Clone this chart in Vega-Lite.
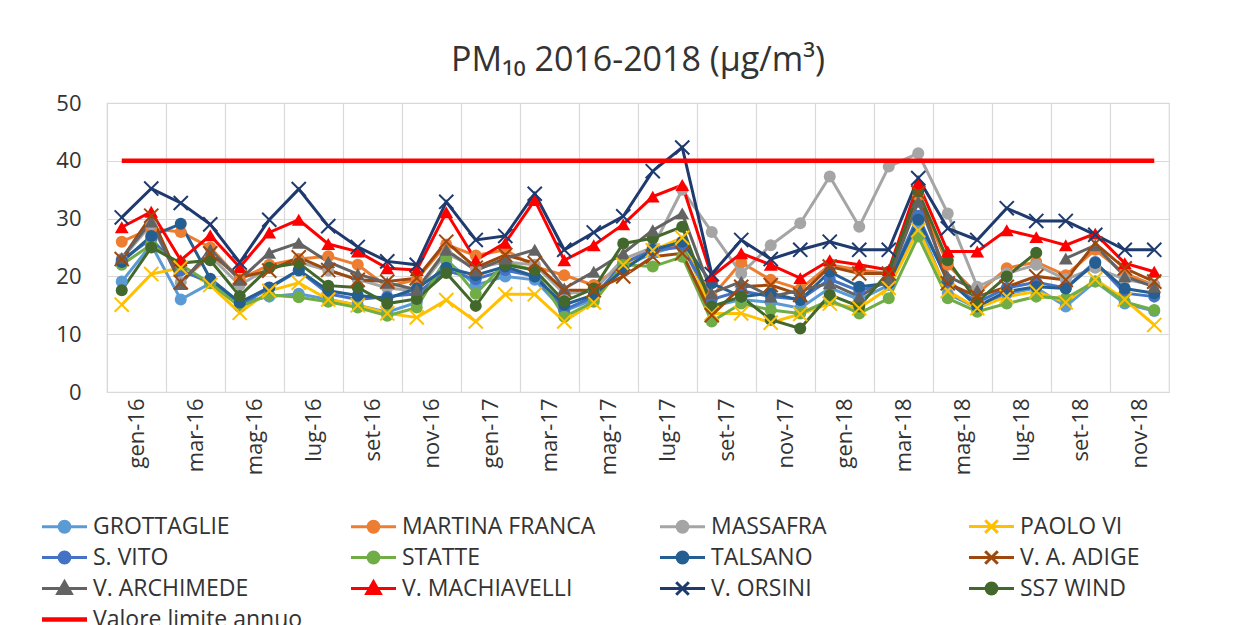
{
"$schema": "https://vega.github.io/schema/vega-lite/v6.json",
"autosize": "none",
"width": 1062,
"height": 289,
"padding": {"left": 107, "top": 103, "right": 69, "bottom": 233},
"background": "white",
"title": {"text": "PM₁₀ 2016-2018 (µg/m³)", "fontSize": 34, "font": "Open Sans", "fontWeight": "normal", "color": "#333333", "offset": 14},
"data": {"values": [
{"m":"gen-16","s":"GROTTAGLIE","v":19.1},{"m":"feb-16","s":"GROTTAGLIE","v":25.5},{"m":"mar-16","s":"GROTTAGLIE","v":16.0},{"m":"apr-16","s":"GROTTAGLIE","v":18.8},{"m":"mag-16","s":"GROTTAGLIE","v":15.5},{"m":"giu-16","s":"GROTTAGLIE","v":16.5},{"m":"lug-16","s":"GROTTAGLIE","v":17.0},{"m":"ago-16","s":"GROTTAGLIE","v":16.0},{"m":"set-16","s":"GROTTAGLIE","v":15.0},{"m":"ott-16","s":"GROTTAGLIE","v":13.8},{"m":"nov-16","s":"GROTTAGLIE","v":15.5},{"m":"dic-16","s":"GROTTAGLIE","v":22.8},
{"m":"gen-17","s":"GROTTAGLIE","v":18.5},{"m":"feb-17","s":"GROTTAGLIE","v":20.0},{"m":"mar-17","s":"GROTTAGLIE","v":19.4},{"m":"apr-17","s":"GROTTAGLIE","v":14.0},{"m":"mag-17","s":"GROTTAGLIE","v":16.0},{"m":"giu-17","s":"GROTTAGLIE","v":21.7},{"m":"lug-17","s":"GROTTAGLIE","v":24.0},{"m":"ago-17","s":"GROTTAGLIE","v":25.5},{"m":"set-17","s":"GROTTAGLIE","v":14.8},{"m":"ott-17","s":"GROTTAGLIE","v":16.0},{"m":"nov-17","s":"GROTTAGLIE","v":15.5},{"m":"dic-17","s":"GROTTAGLIE","v":14.5},
{"m":"gen-18","s":"GROTTAGLIE","v":18.0},{"m":"feb-18","s":"GROTTAGLIE","v":16.0},{"m":"mar-18","s":"GROTTAGLIE","v":18.5},{"m":"apr-18","s":"GROTTAGLIE","v":29.2},{"m":"mag-18","s":"GROTTAGLIE","v":17.0},{"m":"giu-18","s":"GROTTAGLIE","v":14.5},{"m":"lug-18","s":"GROTTAGLIE","v":17.0},{"m":"ago-18","s":"GROTTAGLIE","v":18.0},{"m":"set-18","s":"GROTTAGLIE","v":14.8},{"m":"ott-18","s":"GROTTAGLIE","v":19.1},{"m":"nov-18","s":"GROTTAGLIE","v":15.3},{"m":"dic-18","s":"GROTTAGLIE","v":14.0},

{"m":"gen-16","s":"MARTINA FRANCA","v":26.0},{"m":"feb-16","s":"MARTINA FRANCA","v":28.3},{"m":"mar-16","s":"MARTINA FRANCA","v":27.7},{"m":"apr-16","s":"MARTINA FRANCA","v":25.0},{"m":"mag-16","s":"MARTINA FRANCA","v":19.5},{"m":"giu-16","s":"MARTINA FRANCA","v":22.0},{"m":"lug-16","s":"MARTINA FRANCA","v":23.0},{"m":"ago-16","s":"MARTINA FRANCA","v":23.5},{"m":"set-16","s":"MARTINA FRANCA","v":22.0},{"m":"ott-16","s":"MARTINA FRANCA","v":18.2},{"m":"nov-16","s":"MARTINA FRANCA","v":19.5},{"m":"dic-16","s":"MARTINA FRANCA","v":25.5},
{"m":"gen-17","s":"MARTINA FRANCA","v":23.6},{"m":"feb-17","s":"MARTINA FRANCA","v":24.6},{"m":"mar-17","s":"MARTINA FRANCA","v":21.7},{"m":"apr-17","s":"MARTINA FRANCA","v":20.2},{"m":"mag-17","s":"MARTINA FRANCA","v":18.5},{"m":"giu-17","s":"MARTINA FRANCA","v":22.0},{"m":"lug-17","s":"MARTINA FRANCA","v":25.0},{"m":"ago-17","s":"MARTINA FRANCA","v":25.5},{"m":"set-17","s":"MARTINA FRANCA","v":16.5},{"m":"ott-17","s":"MARTINA FRANCA","v":22.4},{"m":"nov-17","s":"MARTINA FRANCA","v":19.4},{"m":"dic-17","s":"MARTINA FRANCA","v":17.8},
{"m":"gen-18","s":"MARTINA FRANCA","v":22.0},{"m":"feb-18","s":"MARTINA FRANCA","v":21.1},{"m":"mar-18","s":"MARTINA FRANCA","v":20.5},{"m":"apr-18","s":"MARTINA FRANCA","v":34.0},{"m":"mag-18","s":"MARTINA FRANCA","v":22.0},{"m":"giu-18","s":"MARTINA FRANCA","v":17.0},{"m":"lug-18","s":"MARTINA FRANCA","v":21.4},{"m":"ago-18","s":"MARTINA FRANCA","v":22.5},{"m":"set-18","s":"MARTINA FRANCA","v":20.2},{"m":"ott-18","s":"MARTINA FRANCA","v":24.6},{"m":"nov-18","s":"MARTINA FRANCA","v":20.5},{"m":"dic-18","s":"MARTINA FRANCA","v":18.5},

{"m":"gen-16","s":"MASSAFRA","v":23.0},{"m":"feb-16","s":"MASSAFRA","v":29.0},{"m":"mar-16","s":"MASSAFRA","v":19.0},{"m":"apr-16","s":"MASSAFRA","v":23.5},{"m":"mag-16","s":"MASSAFRA","v":18.5},{"m":"giu-16","s":"MASSAFRA","v":21.5},{"m":"lug-16","s":"MASSAFRA","v":22.5},{"m":"ago-16","s":"MASSAFRA","v":21.0},{"m":"set-16","s":"MASSAFRA","v":19.5},{"m":"ott-16","s":"MASSAFRA","v":18.0},{"m":"nov-16","s":"MASSAFRA","v":17.5},{"m":"dic-16","s":"MASSAFRA","v":24.0},
{"m":"gen-17","s":"MASSAFRA","v":21.5},{"m":"feb-17","s":"MASSAFRA","v":22.5},{"m":"mar-17","s":"MASSAFRA","v":22.0},{"m":"apr-17","s":"MASSAFRA","v":17.0},{"m":"mag-17","s":"MASSAFRA","v":17.5},{"m":"giu-17","s":"MASSAFRA","v":23.0},{"m":"lug-17","s":"MASSAFRA","v":25.0},{"m":"ago-17","s":"MASSAFRA","v":35.0},{"m":"set-17","s":"MASSAFRA","v":27.7},{"m":"ott-17","s":"MASSAFRA","v":20.5},{"m":"nov-17","s":"MASSAFRA","v":25.4},{"m":"dic-17","s":"MASSAFRA","v":29.2},
{"m":"gen-18","s":"MASSAFRA","v":37.3},{"m":"feb-18","s":"MASSAFRA","v":28.6},{"m":"mar-18","s":"MASSAFRA","v":39.0},{"m":"apr-18","s":"MASSAFRA","v":41.3},{"m":"mag-18","s":"MASSAFRA","v":30.9},{"m":"giu-18","s":"MASSAFRA","v":18.2},{"m":"lug-18","s":"MASSAFRA","v":20.5},{"m":"ago-18","s":"MASSAFRA","v":22.0},{"m":"set-18","s":"MASSAFRA","v":19.5},{"m":"ott-18","s":"MASSAFRA","v":21.5},{"m":"nov-18","s":"MASSAFRA","v":19.5},{"m":"dic-18","s":"MASSAFRA","v":18.5},

{"m":"gen-16","s":"PAOLO VI","v":15.1},{"m":"feb-16","s":"PAOLO VI","v":20.4},{"m":"mar-16","s":"PAOLO VI","v":21.5},{"m":"apr-16","s":"PAOLO VI","v":18.5},{"m":"mag-16","s":"PAOLO VI","v":13.7},{"m":"giu-16","s":"PAOLO VI","v":17.5},{"m":"lug-16","s":"PAOLO VI","v":18.9},{"m":"ago-16","s":"PAOLO VI","v":16.0},{"m":"set-16","s":"PAOLO VI","v":15.0},{"m":"ott-16","s":"PAOLO VI","v":13.6},{"m":"nov-16","s":"PAOLO VI","v":12.9},{"m":"dic-16","s":"PAOLO VI","v":15.9},
{"m":"gen-17","s":"PAOLO VI","v":12.2},{"m":"feb-17","s":"PAOLO VI","v":16.9},{"m":"mar-17","s":"PAOLO VI","v":16.9},{"m":"apr-17","s":"PAOLO VI","v":12.2},{"m":"mag-17","s":"PAOLO VI","v":15.5},{"m":"giu-17","s":"PAOLO VI","v":22.0},{"m":"lug-17","s":"PAOLO VI","v":24.5},{"m":"ago-17","s":"PAOLO VI","v":26.7},{"m":"set-17","s":"PAOLO VI","v":13.6},{"m":"ott-17","s":"PAOLO VI","v":13.6},{"m":"nov-17","s":"PAOLO VI","v":12.0},{"m":"dic-17","s":"PAOLO VI","v":13.5},
{"m":"gen-18","s":"PAOLO VI","v":15.3},{"m":"feb-18","s":"PAOLO VI","v":14.5},{"m":"mar-18","s":"PAOLO VI","v":18.0},{"m":"apr-18","s":"PAOLO VI","v":28.0},{"m":"mag-18","s":"PAOLO VI","v":17.5},{"m":"giu-18","s":"PAOLO VI","v":14.5},{"m":"lug-18","s":"PAOLO VI","v":16.5},{"m":"ago-18","s":"PAOLO VI","v":17.4},{"m":"set-18","s":"PAOLO VI","v":15.5},{"m":"ott-18","s":"PAOLO VI","v":19.5},{"m":"nov-18","s":"PAOLO VI","v":16.0},{"m":"dic-18","s":"PAOLO VI","v":11.6},

{"m":"gen-16","s":"S. VITO","v":22.8},{"m":"feb-16","s":"S. VITO","v":26.5},{"m":"mar-16","s":"S. VITO","v":21.0},{"m":"apr-16","s":"S. VITO","v":19.0},{"m":"mag-16","s":"S. VITO","v":15.0},{"m":"giu-16","s":"S. VITO","v":18.0},{"m":"lug-16","s":"S. VITO","v":21.0},{"m":"ago-16","s":"S. VITO","v":17.0},{"m":"set-16","s":"S. VITO","v":16.0},{"m":"ott-16","s":"S. VITO","v":16.5},{"m":"nov-16","s":"S. VITO","v":17.0},{"m":"dic-16","s":"S. VITO","v":21.0},
{"m":"gen-17","s":"S. VITO","v":19.5},{"m":"feb-17","s":"S. VITO","v":21.1},{"m":"mar-17","s":"S. VITO","v":20.0},{"m":"apr-17","s":"S. VITO","v":14.2},{"m":"mag-17","s":"S. VITO","v":16.5},{"m":"giu-17","s":"S. VITO","v":22.3},{"m":"lug-17","s":"S. VITO","v":24.5},{"m":"ago-17","s":"S. VITO","v":25.1},{"m":"set-17","s":"S. VITO","v":16.0},{"m":"ott-17","s":"S. VITO","v":17.5},{"m":"nov-17","s":"S. VITO","v":16.5},{"m":"dic-17","s":"S. VITO","v":16.0},
{"m":"gen-18","s":"S. VITO","v":19.5},{"m":"feb-18","s":"S. VITO","v":17.5},{"m":"mar-18","s":"S. VITO","v":19.0},{"m":"apr-18","s":"S. VITO","v":30.5},{"m":"mag-18","s":"S. VITO","v":19.0},{"m":"giu-18","s":"S. VITO","v":15.5},{"m":"lug-18","s":"S. VITO","v":18.0},{"m":"ago-18","s":"S. VITO","v":19.0},{"m":"set-18","s":"S. VITO","v":18.0},{"m":"ott-18","s":"S. VITO","v":22.5},{"m":"nov-18","s":"S. VITO","v":17.1},{"m":"dic-18","s":"S. VITO","v":16.5},

{"m":"gen-16","s":"STATTE","v":22.0},{"m":"feb-16","s":"STATTE","v":25.5},{"m":"mar-16","s":"STATTE","v":22.0},{"m":"apr-16","s":"STATTE","v":18.8},{"m":"mag-16","s":"STATTE","v":14.8},{"m":"giu-16","s":"STATTE","v":16.8},{"m":"lug-16","s":"STATTE","v":16.4},{"m":"ago-16","s":"STATTE","v":15.6},{"m":"set-16","s":"STATTE","v":14.6},{"m":"ott-16","s":"STATTE","v":13.2},{"m":"nov-16","s":"STATTE","v":14.6},{"m":"dic-16","s":"STATTE","v":23.1},
{"m":"gen-17","s":"STATTE","v":17.0},{"m":"feb-17","s":"STATTE","v":22.3},{"m":"mar-17","s":"STATTE","v":21.1},{"m":"apr-17","s":"STATTE","v":13.0},{"m":"mag-17","s":"STATTE","v":15.6},{"m":"giu-17","s":"STATTE","v":22.0},{"m":"lug-17","s":"STATTE","v":21.7},{"m":"ago-17","s":"STATTE","v":23.4},{"m":"set-17","s":"STATTE","v":12.2},{"m":"ott-17","s":"STATTE","v":15.3},{"m":"nov-17","s":"STATTE","v":14.2},{"m":"dic-17","s":"STATTE","v":13.6},
{"m":"gen-18","s":"STATTE","v":15.9},{"m":"feb-18","s":"STATTE","v":13.6},{"m":"mar-18","s":"STATTE","v":16.2},{"m":"apr-18","s":"STATTE","v":26.9},{"m":"mag-18","s":"STATTE","v":16.2},{"m":"giu-18","s":"STATTE","v":13.9},{"m":"lug-18","s":"STATTE","v":15.3},{"m":"ago-18","s":"STATTE","v":16.5},{"m":"set-18","s":"STATTE","v":16.2},{"m":"ott-18","s":"STATTE","v":19.1},{"m":"nov-18","s":"STATTE","v":15.6},{"m":"dic-18","s":"STATTE","v":14.2},

{"m":"gen-16","s":"TALSANO","v":22.5},{"m":"feb-16","s":"TALSANO","v":27.0},{"m":"mar-16","s":"TALSANO","v":29.1},{"m":"apr-16","s":"TALSANO","v":19.6},{"m":"mag-16","s":"TALSANO","v":15.5},{"m":"giu-16","s":"TALSANO","v":18.1},{"m":"lug-16","s":"TALSANO","v":21.1},{"m":"ago-16","s":"TALSANO","v":17.5},{"m":"set-16","s":"TALSANO","v":16.7},{"m":"ott-16","s":"TALSANO","v":16.2},{"m":"nov-16","s":"TALSANO","v":17.9},{"m":"dic-16","s":"TALSANO","v":21.5},
{"m":"gen-17","s":"TALSANO","v":20.2},{"m":"feb-17","s":"TALSANO","v":21.7},{"m":"mar-17","s":"TALSANO","v":20.0},{"m":"apr-17","s":"TALSANO","v":15.1},{"m":"mag-17","s":"TALSANO","v":16.8},{"m":"giu-17","s":"TALSANO","v":21.1},{"m":"lug-17","s":"TALSANO","v":24.6},{"m":"ago-17","s":"TALSANO","v":26.0},{"m":"set-17","s":"TALSANO","v":18.8},{"m":"ott-17","s":"TALSANO","v":16.5},{"m":"nov-17","s":"TALSANO","v":17.1},{"m":"dic-17","s":"TALSANO","v":15.9},
{"m":"gen-18","s":"TALSANO","v":20.8},{"m":"feb-18","s":"TALSANO","v":18.2},{"m":"mar-18","s":"TALSANO","v":18.8},{"m":"apr-18","s":"TALSANO","v":29.8},{"m":"mag-18","s":"TALSANO","v":19.4},{"m":"giu-18","s":"TALSANO","v":14.8},{"m":"lug-18","s":"TALSANO","v":17.4},{"m":"ago-18","s":"TALSANO","v":18.2},{"m":"set-18","s":"TALSANO","v":17.9},{"m":"ott-18","s":"TALSANO","v":22.3},{"m":"nov-18","s":"TALSANO","v":17.9},{"m":"dic-18","s":"TALSANO","v":17.1},

{"m":"gen-16","s":"V. A. ADIGE","v":23.0},{"m":"feb-16","s":"V. A. ADIGE","v":30.5},{"m":"mar-16","s":"V. A. ADIGE","v":19.0},{"m":"apr-16","s":"V. A. ADIGE","v":24.0},{"m":"mag-16","s":"V. A. ADIGE","v":19.8},{"m":"giu-16","s":"V. A. ADIGE","v":21.0},{"m":"lug-16","s":"V. A. ADIGE","v":23.3},{"m":"ago-16","s":"V. A. ADIGE","v":21.1},{"m":"set-16","s":"V. A. ADIGE","v":19.4},{"m":"ott-16","s":"V. A. ADIGE","v":19.1},{"m":"nov-16","s":"V. A. ADIGE","v":19.7},{"m":"dic-16","s":"V. A. ADIGE","v":26.0},
{"m":"gen-17","s":"V. A. ADIGE","v":21.5},{"m":"feb-17","s":"V. A. ADIGE","v":23.7},{"m":"mar-17","s":"V. A. ADIGE","v":22.3},{"m":"apr-17","s":"V. A. ADIGE","v":17.6},{"m":"mag-17","s":"V. A. ADIGE","v":17.6},{"m":"giu-17","s":"V. A. ADIGE","v":20.0},{"m":"lug-17","s":"V. A. ADIGE","v":23.4},{"m":"ago-17","s":"V. A. ADIGE","v":24.0},{"m":"set-17","s":"V. A. ADIGE","v":13.3},{"m":"ott-17","s":"V. A. ADIGE","v":18.2},{"m":"nov-17","s":"V. A. ADIGE","v":18.5},{"m":"dic-17","s":"V. A. ADIGE","v":16.8},
{"m":"gen-18","s":"V. A. ADIGE","v":21.7},{"m":"feb-18","s":"V. A. ADIGE","v":20.5},{"m":"mar-18","s":"V. A. ADIGE","v":20.5},{"m":"apr-18","s":"V. A. ADIGE","v":34.5},{"m":"mag-18","s":"V. A. ADIGE","v":18.8},{"m":"giu-18","s":"V. A. ADIGE","v":16.5},{"m":"lug-18","s":"V. A. ADIGE","v":18.2},{"m":"ago-18","s":"V. A. ADIGE","v":20.0},{"m":"set-18","s":"V. A. ADIGE","v":19.4},{"m":"ott-18","s":"V. A. ADIGE","v":25.7},{"m":"nov-18","s":"V. A. ADIGE","v":21.4},{"m":"dic-18","s":"V. A. ADIGE","v":19.1},

{"m":"gen-16","s":"V. ARCHIMEDE","v":23.2},{"m":"feb-16","s":"V. ARCHIMEDE","v":29.5},{"m":"mar-16","s":"V. ARCHIMEDE","v":18.7},{"m":"apr-16","s":"V. ARCHIMEDE","v":24.6},{"m":"mag-16","s":"V. ARCHIMEDE","v":19.4},{"m":"giu-16","s":"V. ARCHIMEDE","v":24.1},{"m":"lug-16","s":"V. ARCHIMEDE","v":25.8},{"m":"ago-16","s":"V. ARCHIMEDE","v":22.5},{"m":"set-16","s":"V. ARCHIMEDE","v":20.4},{"m":"ott-16","s":"V. ARCHIMEDE","v":18.9},{"m":"nov-16","s":"V. ARCHIMEDE","v":17.7},{"m":"dic-16","s":"V. ARCHIMEDE","v":24.6},
{"m":"gen-17","s":"V. ARCHIMEDE","v":21.0},{"m":"feb-17","s":"V. ARCHIMEDE","v":23.1},{"m":"mar-17","s":"V. ARCHIMEDE","v":24.6},{"m":"apr-17","s":"V. ARCHIMEDE","v":17.9},{"m":"mag-17","s":"V. ARCHIMEDE","v":20.8},{"m":"giu-17","s":"V. ARCHIMEDE","v":24.0},{"m":"lug-17","s":"V. ARCHIMEDE","v":28.0},{"m":"ago-17","s":"V. ARCHIMEDE","v":30.9},{"m":"set-17","s":"V. ARCHIMEDE","v":17.1},{"m":"ott-17","s":"V. ARCHIMEDE","v":19.1},{"m":"nov-17","s":"V. ARCHIMEDE","v":16.5},{"m":"dic-17","s":"V. ARCHIMEDE","v":17.6},
{"m":"gen-18","s":"V. ARCHIMEDE","v":18.8},{"m":"feb-18","s":"V. ARCHIMEDE","v":16.5},{"m":"mar-18","s":"V. ARCHIMEDE","v":19.5},{"m":"apr-18","s":"V. ARCHIMEDE","v":32.9},{"m":"mag-18","s":"V. ARCHIMEDE","v":20.0},{"m":"giu-18","s":"V. ARCHIMEDE","v":17.6},{"m":"lug-18","s":"V. ARCHIMEDE","v":null},{"m":"ago-18","s":"V. ARCHIMEDE","v":null},{"m":"set-18","s":"V. ARCHIMEDE","v":23.1},{"m":"ott-18","s":"V. ARCHIMEDE","v":25.4},{"m":"nov-18","s":"V. ARCHIMEDE","v":20.0},{"m":"dic-18","s":"V. ARCHIMEDE","v":18.2},

{"m":"gen-16","s":"V. MACHIAVELLI","v":28.5},{"m":"feb-16","s":"V. MACHIAVELLI","v":31.2},{"m":"mar-16","s":"V. MACHIAVELLI","v":22.8},{"m":"apr-16","s":"V. MACHIAVELLI","v":27.1},{"m":"mag-16","s":"V. MACHIAVELLI","v":21.6},{"m":"giu-16","s":"V. MACHIAVELLI","v":27.6},{"m":"lug-16","s":"V. MACHIAVELLI","v":29.8},{"m":"ago-16","s":"V. MACHIAVELLI","v":25.6},{"m":"set-16","s":"V. MACHIAVELLI","v":24.3},{"m":"ott-16","s":"V. MACHIAVELLI","v":21.4},{"m":"nov-16","s":"V. MACHIAVELLI","v":21.1},{"m":"dic-16","s":"V. MACHIAVELLI","v":31.1},
{"m":"gen-17","s":"V. MACHIAVELLI","v":22.8},{"m":"feb-17","s":"V. MACHIAVELLI","v":25.8},{"m":"mar-17","s":"V. MACHIAVELLI","v":33.2},{"m":"apr-17","s":"V. MACHIAVELLI","v":22.8},{"m":"mag-17","s":"V. MACHIAVELLI","v":25.4},{"m":"giu-17","s":"V. MACHIAVELLI","v":29.0},{"m":"lug-17","s":"V. MACHIAVELLI","v":33.8},{"m":"ago-17","s":"V. MACHIAVELLI","v":35.8},{"m":"set-17","s":"V. MACHIAVELLI","v":20.0},{"m":"ott-17","s":"V. MACHIAVELLI","v":24.0},{"m":"nov-17","s":"V. MACHIAVELLI","v":22.0},{"m":"dic-17","s":"V. MACHIAVELLI","v":19.7},
{"m":"gen-18","s":"V. MACHIAVELLI","v":22.8},{"m":"feb-18","s":"V. MACHIAVELLI","v":22.0},{"m":"mar-18","s":"V. MACHIAVELLI","v":21.1},{"m":"apr-18","s":"V. MACHIAVELLI","v":36.1},{"m":"mag-18","s":"V. MACHIAVELLI","v":24.3},{"m":"giu-18","s":"V. MACHIAVELLI","v":24.3},{"m":"lug-18","s":"V. MACHIAVELLI","v":28.0},{"m":"ago-18","s":"V. MACHIAVELLI","v":26.8},{"m":"set-18","s":"V. MACHIAVELLI","v":25.4},{"m":"ott-18","s":"V. MACHIAVELLI","v":27.4},{"m":"nov-18","s":"V. MACHIAVELLI","v":22.3},{"m":"dic-18","s":"V. MACHIAVELLI","v":20.8},

{"m":"gen-16","s":"V. ORSINI","v":30.2},{"m":"feb-16","s":"V. ORSINI","v":35.2},{"m":"mar-16","s":"V. ORSINI","v":32.7},{"m":"apr-16","s":"V. ORSINI","v":29.0},{"m":"mag-16","s":"V. ORSINI","v":22.4},{"m":"giu-16","s":"V. ORSINI","v":29.8},{"m":"lug-16","s":"V. ORSINI","v":35.1},{"m":"ago-16","s":"V. ORSINI","v":28.7},{"m":"set-16","s":"V. ORSINI","v":25.1},{"m":"ott-16","s":"V. ORSINI","v":22.6},{"m":"nov-16","s":"V. ORSINI","v":22.0},{"m":"dic-16","s":"V. ORSINI","v":32.9},
{"m":"gen-17","s":"V. ORSINI","v":26.3},{"m":"feb-17","s":"V. ORSINI","v":27.0},{"m":"mar-17","s":"V. ORSINI","v":34.3},{"m":"apr-17","s":"V. ORSINI","v":24.6},{"m":"mag-17","s":"V. ORSINI","v":27.6},{"m":"giu-17","s":"V. ORSINI","v":30.4},{"m":"lug-17","s":"V. ORSINI","v":38.2},{"m":"ago-17","s":"V. ORSINI","v":42.3},{"m":"set-17","s":"V. ORSINI","v":20.4},{"m":"ott-17","s":"V. ORSINI","v":26.3},{"m":"nov-17","s":"V. ORSINI","v":23.0},{"m":"dic-17","s":"V. ORSINI","v":24.6},
{"m":"gen-18","s":"V. ORSINI","v":26.0},{"m":"feb-18","s":"V. ORSINI","v":24.6},{"m":"mar-18","s":"V. ORSINI","v":24.6},{"m":"apr-18","s":"V. ORSINI","v":37.0},{"m":"mag-18","s":"V. ORSINI","v":28.3},{"m":"giu-18","s":"V. ORSINI","v":26.3},{"m":"lug-18","s":"V. ORSINI","v":31.8},{"m":"ago-18","s":"V. ORSINI","v":29.6},{"m":"set-18","s":"V. ORSINI","v":29.6},{"m":"ott-18","s":"V. ORSINI","v":27.2},{"m":"nov-18","s":"V. ORSINI","v":24.6},{"m":"dic-18","s":"V. ORSINI","v":24.6},

{"m":"gen-16","s":"SS7 WIND","v":17.6},{"m":"feb-16","s":"SS7 WIND","v":25.0},{"m":"mar-16","s":"SS7 WIND","v":22.3},{"m":"apr-16","s":"SS7 WIND","v":22.8},{"m":"mag-16","s":"SS7 WIND","v":16.6},{"m":"giu-16","s":"SS7 WIND","v":21.5},{"m":"lug-16","s":"SS7 WIND","v":22.3},{"m":"ago-16","s":"SS7 WIND","v":18.4},{"m":"set-16","s":"SS7 WIND","v":18.1},{"m":"ott-16","s":"SS7 WIND","v":15.3},{"m":"nov-16","s":"SS7 WIND","v":16.1},{"m":"dic-16","s":"SS7 WIND","v":20.6},
{"m":"gen-17","s":"SS7 WIND","v":14.9},{"m":"feb-17","s":"SS7 WIND","v":22.0},{"m":"mar-17","s":"SS7 WIND","v":21.1},{"m":"apr-17","s":"SS7 WIND","v":15.7},{"m":"mag-17","s":"SS7 WIND","v":17.9},{"m":"giu-17","s":"SS7 WIND","v":25.7},{"m":"lug-17","s":"SS7 WIND","v":26.6},{"m":"ago-17","s":"SS7 WIND","v":28.6},{"m":"set-17","s":"SS7 WIND","v":14.8},{"m":"ott-17","s":"SS7 WIND","v":16.5},{"m":"nov-17","s":"SS7 WIND","v":12.5},{"m":"dic-17","s":"SS7 WIND","v":11.0},
{"m":"gen-18","s":"SS7 WIND","v":16.8},{"m":"feb-18","s":"SS7 WIND","v":14.8},{"m":"mar-18","s":"SS7 WIND","v":20.8},{"m":"apr-18","s":"SS7 WIND","v":34.7},{"m":"mag-18","s":"SS7 WIND","v":22.8},{"m":"giu-18","s":"SS7 WIND","v":15.6},{"m":"lug-18","s":"SS7 WIND","v":20.0},{"m":"ago-18","s":"SS7 WIND","v":24.1},

{"m":"gen-16","s":"Valore limite annuo","v":40},{"m":"feb-16","s":"Valore limite annuo","v":40},{"m":"mar-16","s":"Valore limite annuo","v":40},{"m":"apr-16","s":"Valore limite annuo","v":40},{"m":"mag-16","s":"Valore limite annuo","v":40},{"m":"giu-16","s":"Valore limite annuo","v":40},{"m":"lug-16","s":"Valore limite annuo","v":40},{"m":"ago-16","s":"Valore limite annuo","v":40},{"m":"set-16","s":"Valore limite annuo","v":40},{"m":"ott-16","s":"Valore limite annuo","v":40},{"m":"nov-16","s":"Valore limite annuo","v":40},{"m":"dic-16","s":"Valore limite annuo","v":40},
{"m":"gen-17","s":"Valore limite annuo","v":40},{"m":"feb-17","s":"Valore limite annuo","v":40},{"m":"mar-17","s":"Valore limite annuo","v":40},{"m":"apr-17","s":"Valore limite annuo","v":40},{"m":"mag-17","s":"Valore limite annuo","v":40},{"m":"giu-17","s":"Valore limite annuo","v":40},{"m":"lug-17","s":"Valore limite annuo","v":40},{"m":"ago-17","s":"Valore limite annuo","v":40},{"m":"set-17","s":"Valore limite annuo","v":40},{"m":"ott-17","s":"Valore limite annuo","v":40},{"m":"nov-17","s":"Valore limite annuo","v":40},{"m":"dic-17","s":"Valore limite annuo","v":40},
{"m":"gen-18","s":"Valore limite annuo","v":40},{"m":"feb-18","s":"Valore limite annuo","v":40},{"m":"mar-18","s":"Valore limite annuo","v":40},{"m":"apr-18","s":"Valore limite annuo","v":40},{"m":"mag-18","s":"Valore limite annuo","v":40},{"m":"giu-18","s":"Valore limite annuo","v":40},{"m":"lug-18","s":"Valore limite annuo","v":40},{"m":"ago-18","s":"Valore limite annuo","v":40},{"m":"set-18","s":"Valore limite annuo","v":40},{"m":"ott-18","s":"Valore limite annuo","v":40},{"m":"nov-18","s":"Valore limite annuo","v":40},{"m":"dic-18","s":"Valore limite annuo","v":40}
]},
"encoding": {
  "x": {"field": "m", "type": "nominal", "title": null,
    "sort": ["gen-16","feb-16","mar-16","apr-16","mag-16","giu-16","lug-16","ago-16","set-16","ott-16","nov-16","dic-16","gen-17","feb-17","mar-17","apr-17","mag-17","giu-17","lug-17","ago-17","set-17","ott-17","nov-17","dic-17","gen-18","feb-18","mar-18","apr-18","mag-18","giu-18","lug-18","ago-18","set-18","ott-18","nov-18","dic-18"],
    "scale": {"type": "band", "paddingInner": 0, "paddingOuter": 0},
    "axis": {"values": ["gen-16","mar-16","mag-16","lug-16","set-16","nov-16","gen-17","mar-17","mag-17","lug-17","set-17","nov-17","gen-18","mar-18","mag-18","lug-18","set-18","nov-18"],
      "bandPosition": 0, "labelOffset": 14.75, "labelAngle": -90, "labelAlign": "right", "labelBaseline": "middle", "labelPadding": 6, "labelFontSize": 22, "labelFont": "Open Sans", "labelColor": "#333333",
      "grid": true, "gridColor": "#D9D9D9", "gridWidth": 1.2, "ticks": false, "tickSize": 0, "domain": false}},
  "y": {"field": "v", "type": "quantitative", "title": null,
    "scale": {"domain": [0, 50], "nice": false, "zero": true},
    "axis": {"values": [0, 10, 20, 30, 40, 50], "labelFontSize": 22, "labelFont": "Open Sans", "labelColor": "#333333", "labelPadding": 26,
      "grid": true, "gridColor": "#D9D9D9", "gridWidth": 1.2, "ticks": false, "tickSize": 0, "domain": false}},
  "color": {"field": "s", "type": "nominal",
    "scale": {"domain": ["GROTTAGLIE","MARTINA FRANCA","MASSAFRA","PAOLO VI","S. VITO","STATTE","TALSANO","V. A. ADIGE","V. ARCHIMEDE","V. MACHIAVELLI","V. ORSINI","SS7 WIND","Valore limite annuo"],
      "range": ["#5B9BD5","#ED7D31","#A5A5A5","#FFC000","#4472C4","#70AD47","#255E91","#9E480E","#636363","#FF0000","#1F3A6E","#43682B","#FF0000"]},
    "legend": null}
},
"layer": [
  {"transform": [{"filter": "datum.s !== 'Valore limite annuo'"}],
   "mark": {"type": "line", "strokeWidth": 3, "invalid": "break-paths-show-domains"},
   "encoding": {"color": {"field": "s", "type": "nominal",
     "legend": {"orient": "none", "direction": "horizontal", "legendX": -54, "legendY": 412, "columns": 4, "gridAlign": "all", "columnPadding": 42, "rowPadding": 5, "title": null, "padding": 0,
       "symbolSize": 2025, "symbolStrokeWidth": 3, "labelFont": "Open Sans", "labelFontSize": 23, "labelColor": "#333333", "labelOffset": 17, "labelLimit": 400,
       "encode": {"symbols": {"update": {
         "shape": {"signal": "indexof(['PAOLO VI','V. A. ADIGE','V. ORSINI'], datum.value) >= 0 ? 'M-1,0L1,0M-0.28,-0.28L0.28,0.28M-0.28,0.28L0.28,-0.28' : indexof(['V. ARCHIMEDE','V. MACHIAVELLI'], datum.value) >= 0 ? 'M-1,0L1,0M0,-0.3L0.3,0.22L-0.3,0.22Z' : datum.value === 'Valore limite annuo' ? 'M-1,0L1,0' : 'M-1,0L1,0M-0.24,0A0.24,0.24,0,1,0,0.24,0A0.24,0.24,0,1,0,-0.24,0Z'"},
         "fill": {"signal": "scale('color', datum.value)"},
         "stroke": {"signal": "scale('color', datum.value)"},
         "strokeWidth": {"signal": "datum.value === 'Valore limite annuo' ? 4.5 : 3"},
         "opacity": {"value": 1}}}}}}}},
  {"transform": [{"filter": {"field": "s", "oneOf": ["GROTTAGLIE","MARTINA FRANCA","MASSAFRA","S. VITO","STATTE","TALSANO","SS7 WIND"]}}],
   "mark": {"type": "point", "shape": "circle", "filled": true, "size": 144, "opacity": 1}},
  {"transform": [{"filter": {"field": "s", "oneOf": ["V. ARCHIMEDE","V. MACHIAVELLI"]}}],
   "mark": {"type": "point", "shape": "triangle-up", "filled": true, "size": 190, "opacity": 1}},
  {"transform": [{"filter": {"field": "s", "oneOf": ["PAOLO VI","V. A. ADIGE","V. ORSINI"]}}],
   "mark": {"type": "point", "shape": "M-1,-1L1,1M-1,1L1,-1", "filled": false, "size": 200, "strokeWidth": 2, "opacity": 1}},
  {"transform": [{"filter": "datum.s === 'Valore limite annuo'"}],
   "mark": {"type": "line", "strokeWidth": 4.5}}
],
"config": {"view": {"stroke": "#D9D9D9", "strokeWidth": 1.2}, "font": "Open Sans"}
}
